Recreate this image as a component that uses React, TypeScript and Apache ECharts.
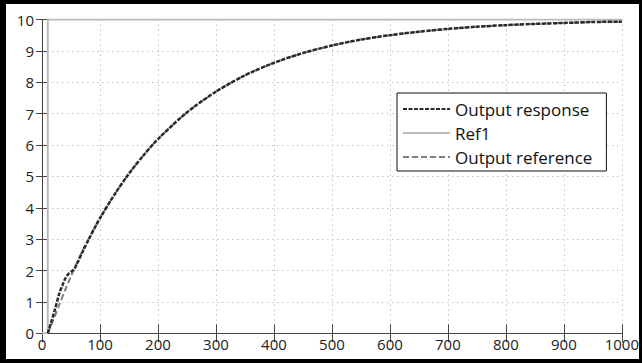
import React, { useEffect, useRef } from "react";
import * as echarts from "echarts";

const xTicks = [0, 100, 200, 300, 400, 500, 600, 700, 800, 900, 1000];
const yTicks = [0, 1, 2, 3, 4, 5, 6, 7, 8, 9, 10];

const responseT = [10, 15, 22, 30, 35, 40, 45, 50, 55, 60, 70, 80, 90, 100, 125, 150, 175, 200, 250, 300, 350, 400, 450, 500, 550, 600, 650, 700, 750, 800, 850, 900, 950, 1000];
const responseY = [0, 0.3, 0.74, 1.28, 1.52, 1.74, 1.88, 1.96, 2.03, 2.2, 2.6, 2.97, 3.33, 3.67, 4.42, 5.09, 5.67, 6.19, 7.04, 7.7, 8.22, 8.62, 8.93, 9.17, 9.36, 9.5, 9.61, 9.7, 9.77, 9.82, 9.86, 9.89, 9.92, 9.93];

const refT = [0, 10, 10, 1000];
const refY = [0, 0, 10, 10];

const outRefT = [10, 20, 30, 40, 50, 60, 70, 80, 90, 100, 125, 150, 175, 200, 250, 300, 350, 400, 450, 500, 550, 600, 650, 700, 750, 800, 850, 900, 950, 1000];
const outRefY = [0, 0.45, 0.92, 1.38, 1.82, 2.24, 2.63, 2.99, 3.34, 3.67, 4.42, 5.09, 5.67, 6.19, 7.04, 7.7, 8.22, 8.62, 8.93, 9.17, 9.36, 9.5, 9.61, 9.7, 9.77, 9.82, 9.86, 9.89, 9.92, 9.93];

const zip = (a: number[], b: number[]) => a.map((v, i) => [v, b[i]]);

export default function App() {
  const ref = useRef<HTMLDivElement>(null);
  useEffect(() => {
    const chart = echarts.init(ref.current!, null, { renderer: "svg" });
    const font = "Open Sans";
    const axisLineStyle = { color: "#444", width: 1 };
    const grid = { color: "#c4c4c4", type: [1.5, 3.5], width: 1 };
    chart.setOption({
      animation: false,
      backgroundColor: "#fff",
      grid: { left: 42, right: 11.5, top: 19.5, bottom: 29.7 },
      xAxis: [
        {
          type: "value",
          min: xTicks[0],
          max: xTicks[xTicks.length - 1],
          interval: 100,
          axisLine: { show: true, lineStyle: axisLineStyle },
          axisTick: { show: true, inside: true, length: 9, lineStyle: axisLineStyle },
          axisLabel: { color: "#222", fontFamily: font, fontSize: 15, margin: 3, showMaxLabel: true, formatter: (v: number) => String(v) },
          splitLine: { show: true, lineStyle: grid },
        },
        {
          type: "value",
          position: "top",
          min: 0,
          max: 1000,
          interval: 100,
          axisLine: { show: true, lineStyle: axisLineStyle },
          axisTick: { show: true, inside: true, length: 9, lineStyle: axisLineStyle },
          axisLabel: { show: false },
          splitLine: { show: false },
        },
      ],
      yAxis: [
        {
          type: "value",
          min: yTicks[0],
          max: yTicks[yTicks.length - 1],
          interval: 1,
          axisLine: { show: true, lineStyle: axisLineStyle },
          axisTick: { show: true, inside: true, length: 6, lineStyle: axisLineStyle },
          axisLabel: { color: "#222", fontFamily: font, fontSize: 15, margin: 8, formatter: (v: number) => String(v) },
          splitLine: { show: true, lineStyle: grid },
        },
        {
          type: "value",
          position: "right",
          min: 0,
          max: 10,
          interval: 1,
          axisLine: { show: true, lineStyle: axisLineStyle },
          axisTick: { show: true, inside: true, length: 6, lineStyle: axisLineStyle },
          axisLabel: { show: false },
          splitLine: { show: false },
        },
      ],
      legend: {
        orient: "vertical",
        left: 397,
        top: 93,
        padding: [6, 14, 4, 5],
        itemWidth: 47,
        itemHeight: 14,
        itemGap: 4,
        backgroundColor: "#fff",
        borderColor: "#111",
        borderWidth: 1,
        borderRadius: 0,
        itemStyle: { opacity: 0 },
        textStyle: { fontFamily: font, fontSize: 17, color: "#111", lineHeight: 20 },
        data: ["Output response", "Ref1", "Output reference"],
      },
      series: [
        {
          name: "Output response",
          type: "line",
          data: zip(responseT, responseY),
          symbol: "none",
          smooth: 0.3,
          z: 5,
          lineStyle: { color: "#2b2b2b", width: 2.5, type: [4, 1.5] },
          itemStyle: { color: "#2b2b2b" },
        },
        {
          name: "Ref1",
          type: "line",
          data: zip(refT, refY),
          symbol: "none",
          z: 2,
          lineStyle: { color: "#bbbbbb", width: 2, type: "solid" },
          itemStyle: { color: "#bbbbbb" },
        },
        {
          name: "Output reference",
          type: "line",
          data: zip(outRefT, outRefY),
          symbol: "none",
          smooth: 0.3,
          z: 3,
          lineStyle: { color: "#808080", width: 2, type: [6, 3] },
          itemStyle: { color: "#808080" },
        },
      ],
      graphic: [
        { type: "rect", left: 0, top: 0, shape: { width: 642, height: 4 }, style: { fill: "#000" } },
        { type: "rect", left: 0, top: 359, shape: { width: 642, height: 4 }, style: { fill: "#000" } },
        { type: "rect", left: 0, top: 0, shape: { width: 6, height: 363 }, style: { fill: "#000" } },
        { type: "rect", left: 639, top: 0, shape: { width: 3, height: 363 }, style: { fill: "#000" } },
      ],
    });
    return () => chart.dispose();
  }, []);
  return (
    <div
      ref={ref}
      style={{ position: "absolute", left: 0, top: 0, width: 642, height: 363, background: "#fff" }}
    />
  );
}
